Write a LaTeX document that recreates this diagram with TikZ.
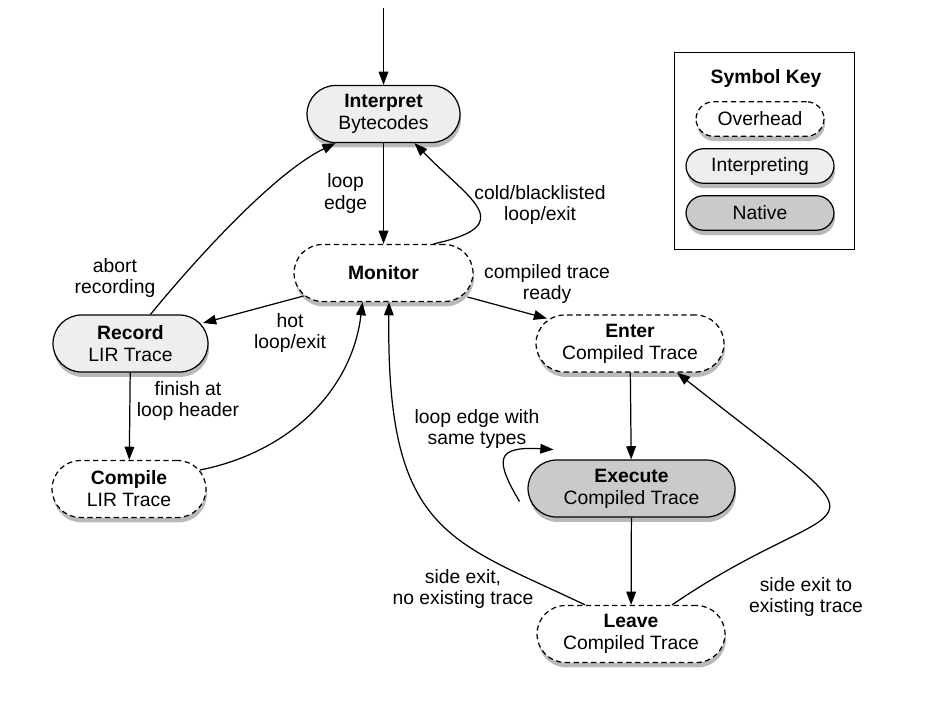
\documentclass[tikz,border=0pt]{standalone}
\usepackage{fontspec}
\setmainfont{Liberation Sans}
\usetikzlibrary{arrows.meta,shadows,calc}
\definecolor{interpgray}{RGB}{238,238,238}
\definecolor{nativegray}{RGB}{202,202,202}

\begin{document}
\begin{tikzpicture}[x=0.02cm, y=-0.02cm, font=\fontsize{11}{12.5}\selectfont,
    state/.style={draw, line width=0.7pt, rounded corners=0.57cm, minimum height=1.14cm,
      align=center, inner sep=2pt,
      drop shadow={shadow xshift=0.6pt, shadow yshift=-2.8pt, opacity=0.55}},
    overheadbox/.style={state, fill=white, dash pattern=on 3pt off 2pt},
    interpbox/.style={state, fill=interpgray},
    nativebox/.style={state, fill=nativegray},
    keypill/.style={rounded corners=0.35cm, minimum height=0.69cm},
    arr/.style={-{Triangle[length=7.5pt,width=5.5pt]}, line width=0.7pt},
    lbl/.style={align=center, inner sep=0pt}]
  \useasboundingbox (0,0) rectangle (952,700);

  % states
  \node[interpbox, minimum width=3.06cm] (interp) at (383.5,114) {\textbf{Interpret}\\Bytecodes};
  \node[overheadbox, minimum width=3.58cm] (monitor) at (383.5,273) {\textbf{Monitor}};
  \node[interpbox, minimum width=3.1cm] (record) at (130.5,343.5) {\textbf{Record}\\LIR Trace};
  \node[overheadbox, minimum width=3.08cm] (compile) at (129,489) {\textbf{Compile}\\LIR Trace};
  \node[overheadbox, minimum width=3.76cm] (enter) at (630,343.5) {\textbf{Enter}\\Compiled Trace};
  \node[nativebox, minimum width=4.14cm] (execute) at (631.5,488.5) {\textbf{Execute}\\Compiled Trace};
  \node[overheadbox, minimum width=3.76cm] (leave) at (631,634) {\textbf{Leave}\\Compiled Trace};

  % symbol key
  \node[draw, line width=0.5pt, minimum width=3.6cm, minimum height=3.94cm] (key) at (764,150.5) {};
  \node (keytitle) at (766,79) {\textbf{Symbol Key}};
  \node[overheadbox, keypill, minimum width=2.56cm] (keyover) at (760,119) {Overhead};
  \node[interpbox, keypill, minimum width=2.96cm] (keyinterp) at (760,166) {Interpreting};
  \node[nativebox, keypill, minimum width=2.96cm] (keynative) at (760,213) {Native};

  % transitions
  \coordinate (entry) at (383.5,8);
  \draw[arr] (entry) -- (interp);
  \draw[arr] (interp) -- (monitor) node[lbl, midway, left=9pt] (looplbl) {loop\\edge};
  \draw[arr] ($(monitor.north)+(50,0)$) .. controls (520,225) and (470,200) .. ($(interp.south)+(31,0)$);
  \node[lbl] (coldlbl) at (540,205) {cold/blacklisted\\loop/exit};
  \draw[arr] ($(record.north)+(20,0)$) .. controls (185,272) and (270,175) .. ($(interp.south)+(-48,0)$);
  \node[lbl] (abortlbl) at (115,278) {abort\\recording};
  \draw[arr] ($(monitor.center)+(-80,23)$) -- ($(record.center)+(72.5,-20.5)$);
  \node[lbl] (hotlbl) at (290,333) {hot\\loop/exit};
  \draw[arr] (record) -- (compile);
  \node[lbl] (finishlbl) at (188,401) {finish at\\loop header};
  \draw[arr] ($(compile.center)+(71,-19)$) .. controls (290,452) and (352,390) .. ($(monitor.south)+(-21,0)$);
  \draw[arr] ($(monitor.center)+(84,24)$) -- ($(enter.center)+(-83,-25)$);
  \node[lbl] (readylbl) at (547,284) {compiled trace\\ready};
  \draw[arr] (enter) -- (execute);
  \draw[arr] ($(execute.center)+(-112,13)$) .. controls (495,460) and (495,446) .. ($(execute.center)+(-78,-39)$);
  \node[lbl] (samelbl) at (477,429) {loop edge with\\same types};
  \draw[arr] (execute) -- (leave);
  \draw[arr] ($(leave.north)+(-46,0)$) .. controls (450,540) and (386,535) .. ($(monitor.south)+(5.5,0)$);
  \node[lbl] (nonelbl) at (463,589) {side exit,\\no existing trace};
  \draw[arr] ($(leave.north)+(41,0)$) .. controls (852,482) and (905,553) .. ($(enter.south)+(47,0)$);
  \node[lbl] (existlbl) at (806,597) {side exit to\\existing trace};
\end{tikzpicture}
\end{document}
